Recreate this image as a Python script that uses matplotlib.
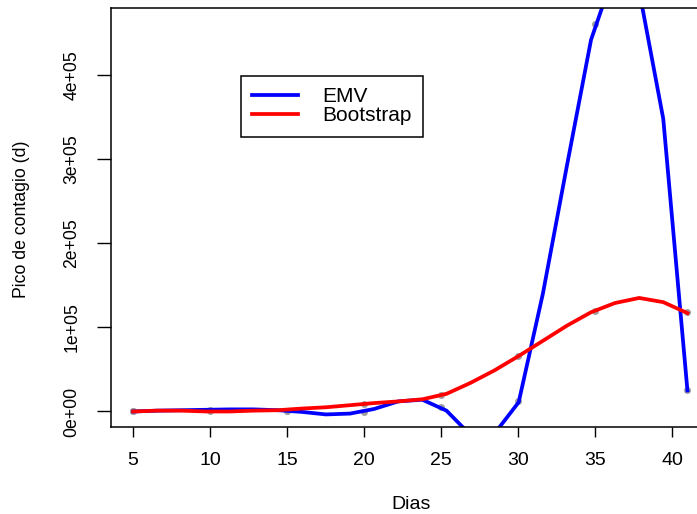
import numpy as np
import matplotlib.pyplot as plt

plt.rcParams['font.family'] = ['Liberation Sans', 'DejaVu Sans']

# Puntos de la curva suavizada (dias)
dias = [5.0, 6.57, 8.13, 9.70, 11.26, 12.83, 14.39, 15.96, 17.52, 19.09, 20.65, 22.22,
        23.78, 25.35, 26.91, 28.48, 30.04, 31.61, 33.17, 34.74, 36.30, 37.87, 39.43, 41.0]

emv = [0, 1000, 1500, 2000, 2500, 2500, 1500, -500, -3500, -2500, 3000, 12000,
       14000, 1000, -28000, -26000, 11000, 140000, 292000, 442000, 525000, 500000,
       348000, 25000]

boot = [0, 1000, 1000, 0, 0, 1000, 1500, 3500, 5000, 7500, 10000, 12000,
        14500, 21000, 34000, 49000, 66000, 84000, 102000, 118000, 129000, 135000,
        130000, 117000]

# Observaciones (puntos grises)
obs_dias = [5, 10, 15, 20, 25, 30, 35, 41]
obs_emv = [0, 1500, 0, -1000, 5000, 12000, 461000, 25000]
obs_boot = [0, 500, 1000, 9000, 20000, 66000, 120000, 118000]

W, H = 697, 514
fig = plt.figure(figsize=(W / 100, H / 100), dpi=100)
ax = fig.add_axes([111 / W, (H - 426.5) / H, 598.6 / W, 418.5 / H])

ax.scatter(obs_dias, obs_emv, s=16, color='#a0a0a0', zorder=1)
ax.scatter(obs_dias, obs_boot, s=16, color='#a0a0a0', zorder=1)
l1, = ax.plot(dias, emv, color='blue', lw=2.7, zorder=2)
l2, = ax.plot(dias, boot, color='red', lw=2.7, zorder=3)

ax.set_xlim(3.56, 42.44)
ax.set_ylim(-17857, 479762)
ax.set_xticks([5, 10, 15, 20, 25, 30, 35, 40])
ax.set_yticks([0, 100000, 200000, 300000, 400000])
ax.set_yticklabels(['0e+00', '1e+05', '2e+05', '3e+05', '4e+05'],
                   rotation=90, va='center')
ax.tick_params(axis='x', direction='out', length=7.5, width=1, labelsize=14, pad=11)
ax.tick_params(axis='y', direction='out', length=10, width=1, labelsize=12.7, pad=12)
for s in ax.spines.values():
    s.set_linewidth(1.1)

ax.set_xlabel('Dias', fontsize=14, va='top')
ax.xaxis.set_label_coords(411 / W, 1 - 496 / H, transform=fig.transFigure)
ax.set_ylabel('Pico de contagio (d)', fontsize=12.7, va='center')
ax.yaxis.set_label_coords(22 / W, 1 - 219 / H, transform=fig.transFigure)

# Leyenda
leg = fig.legend([l1, l2], ['EMV', 'Bootstrap'], loc='upper left',
                 bbox_to_anchor=(241 / W, 1 - 76 / H), borderaxespad=0,
                 fancybox=False, edgecolor='black', framealpha=1,
                 fontsize=15, handlelength=2.2, handletextpad=1.15,
                 borderpad=0.55, labelspacing=0.0)
leg.get_frame().set_linewidth(1.1)

fig.savefig('out.png', dpi=100)
